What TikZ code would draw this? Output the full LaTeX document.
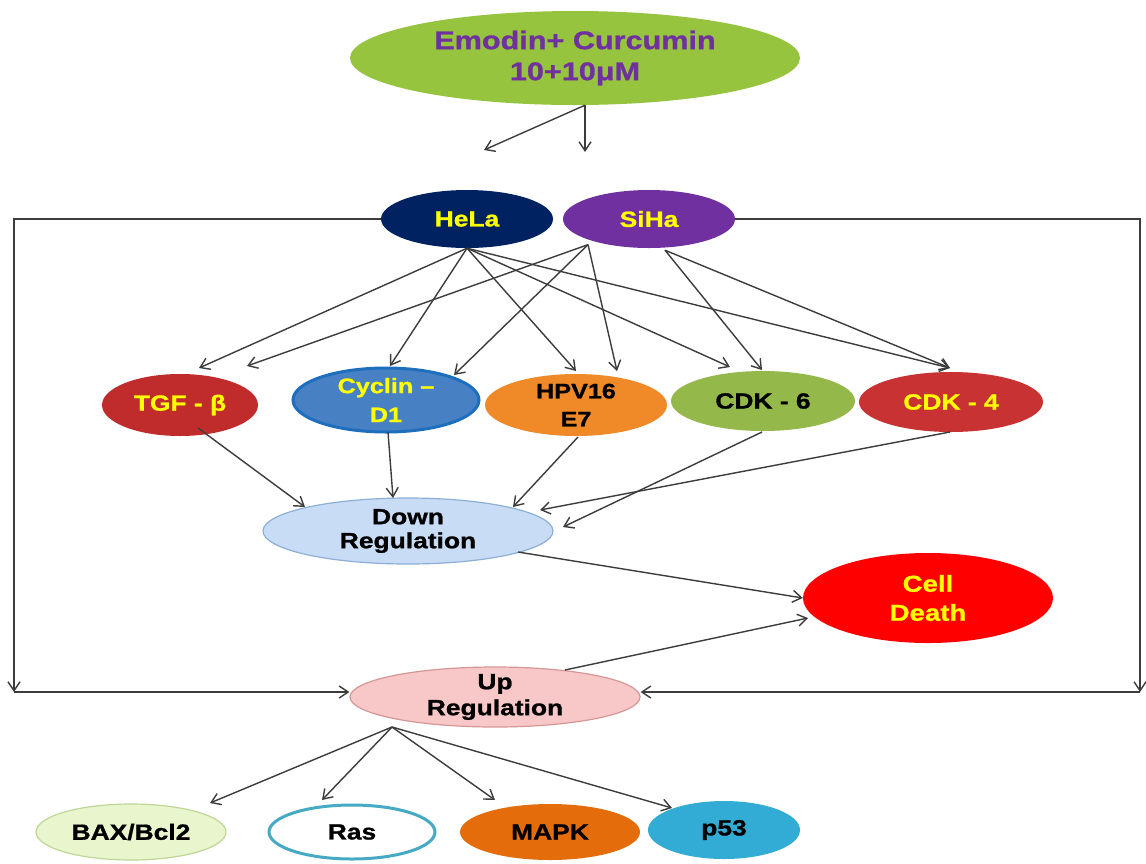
\documentclass[tikz,border=0pt]{standalone}
\usepackage{fontspec}
\newfontfamily\lab{Liberation Sans}[FakeStretch=1.2,FakeBold=1]
\usetikzlibrary{shapes.geometric,arrows.meta}
\definecolor{linec}{RGB}{60,60,60}
\definecolor{topg}{RGB}{150,196,62}
\definecolor{toptxt}{RGB}{112,48,160}
\definecolor{helac}{RGB}{0,34,96}
\definecolor{sihac}{RGB}{112,48,160}
\definecolor{tgfc}{RGB}{192,44,44}
\definecolor{cycf}{RGB}{72,128,196}
\definecolor{cycb}{RGB}{30,110,190}
\definecolor{hpvc}{RGB}{240,138,40}
\definecolor{cdksix}{RGB}{148,184,74}
\definecolor{cdkfour}{RGB}{200,50,50}
\definecolor{downf}{RGB}{200,220,245}
\definecolor{downb}{RGB}{140,175,215}
\definecolor{deathc}{RGB}{255,0,0}
\definecolor{upf}{RGB}{248,200,200}
\definecolor{upb}{RGB}{215,150,150}
\definecolor{baxf}{RGB}{232,245,205}
\definecolor{baxb}{RGB}{190,215,150}
\definecolor{rasb}{RGB}{70,170,196}
\definecolor{mapkc}{RGB}{228,108,10}
\definecolor{pfc}{RGB}{50,172,212}
\definecolor{yel}{RGB}{255,255,0}
\begin{document}
\begin{tikzpicture}[x=1pt,y=-1pt,
  ov/.style={ellipse, inner sep=-6pt, align=center,
    font=\lab\bfseries\fontsize{22}{27}\selectfont},
  conn/.style={draw=linec, line width=1.4pt,
    -{Straight Barb[length=9pt,width=12pt,line width=1.4pt]}}]
\useasboundingbox (0,0) rectangle (1146,863);
\fill[white] (0,0) rectangle (1146,863);

% nodes
\node[ov, fill=topg, minimum width=450, minimum height=94, text=toptxt,
  font=\lab\bfseries\fontsize{25.5}{31}\selectfont] (top) at (575,58) {Emodin+ Curcumin\\10+10μM};
\node[ov, fill=helac, minimum width=172, minimum height=58, text=yel] (hela) at (467,219) {HeLa};
\node[ov, fill=sihac, minimum width=172, minimum height=58, text=yel] (siha) at (649,219) {SiHa};

\node[ov, fill=tgfc, minimum width=156, minimum height=62, text=yel] (tgf) at (180,405) {TGF - β};
\node[ov, fill=cycf, draw=cycb, line width=3pt, minimum width=186, minimum height=64, text=yel,
  font=\lab\bfseries\fontsize{21}{29}\selectfont] (cyc) at (386,400) {Cyclin –\\D1};
\node[ov, fill=hpvc, minimum width=182, minimum height=62, text=black,
  font=\lab\bfseries\fontsize{21}{28}\selectfont] (hpv) at (576,405) {HPV16\\E7};
\node[ov, fill=cdksix, minimum width=184, minimum height=60, text=black] (cdk6) at (763,401) {CDK - 6};
\node[ov, fill=cdkfour, minimum width=184, minimum height=60, text=yel] (cdk4) at (951,402) {CDK - 4};

\node[ov, fill=downf, draw=downb, line width=1.2pt, minimum width=290, minimum height=66, text=black,
  font=\lab\bfseries\fontsize{22}{24}\selectfont] (down) at (408,531) {Down\\Regulation};
\node[ov, fill=deathc, minimum width=250, minimum height=90, text=yel,
  font=\lab\bfseries\fontsize{23}{29}\selectfont] (death) at (928,598) {Cell\\Death};
\node[ov, fill=upf, draw=upb, line width=1.2pt, minimum width=290, minimum height=60, text=black,
  font=\lab\bfseries\fontsize{22}{26}\selectfont] (up) at (495,697) {Up\\Regulation};

\node[ov, fill=baxf, draw=baxb, line width=1.2pt, minimum width=190, minimum height=56, text=black] (bax) at (131,832) {BAX/Bcl2};
\node[ov, fill=white, draw=rasb, line width=3pt, minimum width=166, minimum height=54, text=black] (ras) at (352,832) {Ras};
\node[ov, fill=mapkc, minimum width=180, minimum height=56, text=black] (mapk) at (550,832) {MAPK};
\node[ov, fill=pfc, minimum width=152, minimum height=58, text=black] (p53) at (724,830) {p53};

% free ends
\coordinate (e1) at (484,150);
\coordinate (e2) at (585,152);
\coordinate (bl) at (14,692);
\coordinate (br) at (1140,692);

% top arrows
\draw[conn] ([shift={(10,0)}]top.south) -- (e1);
\draw[conn] ([shift={(10,0)}]top.south) -- (e2);

% HeLa fan
\draw[conn] (hela.south) -- ([shift={(19,-37)}]tgf.center);
\draw[conn] (hela.south) -- ([shift={(4,-34)}]cyc.center);
\draw[conn] (hela.south) -- ([shift={(0,-34)}]hpv.center);
\draw[conn] (hela.south) -- ([shift={(-33,-34)}]cdk6.center);
\draw[conn] (hela.south) -- ([shift={(-1,-34)}]cdk4.center);

% SiHa fan
\draw[conn] ([shift={(0,5)}]siha.south west) -- ([shift={(67,-39)}]tgf.center);
\draw[conn] ([shift={(0,5)}]siha.south west) -- ([shift={(68,-25)}]cyc.center);
\draw[conn] ([shift={(0,5)}]siha.south west) -- ([shift={(41,-34)}]hpv.center);
\draw[conn] ([shift={(16,2)}]siha.south) -- ([shift={(-1,-31)}]cdk6.center);
\draw[conn] ([shift={(16,2)}]siha.south) -- ([shift={(-1,-34)}]cdk4.center);

% to Down Regulation
\draw[conn] ([shift={(18,23)}]tgf.center) -- ([shift={(-103,-24)}]down.center);
\draw[conn] ([shift={(2,32)}]cyc.center) -- ([shift={(-15,-33)}]down.center);
\draw[conn] ([shift={(2,32)}]hpv.center) -- ([shift={(105,-24)}]down.center);
\draw[conn] ([shift={(-1,31)}]cdk6.center) -- ([shift={(155,-4)}]down.center);
\draw[conn] ([shift={(-1,30)}]cdk4.center) -- ([shift={(132,-21)}]down.center);

% to Cell Death
\draw[conn] ([shift={(110,21)}]down.center) -- (death.west);
\draw[conn] ([shift={(70,-27)}]up.center) -- ([shift={(-120,20)}]death.center);

% side loops
\draw[conn] (hela.west) -| (bl);
\draw[conn] (bl) -- (bl -| up.west);
\draw[conn] (siha.east) -| (br);
\draw[conn] (br) -- (br -| up.east);

% Up fan
\draw[conn] ([shift={(-103,30)}]up.center) -- ([shift={(79,-29)}]bax.center);
\draw[conn] ([shift={(-103,30)}]up.center) -- ([shift={(-30,-32)}]ras.center);
\draw[conn] ([shift={(-103,30)}]up.center) -- ([shift={(-55,-32)}]mapk.center);
\draw[conn] ([shift={(-103,30)}]up.center) -- ([shift={(-52,-22)}]p53.center);
\end{tikzpicture}
\end{document}
